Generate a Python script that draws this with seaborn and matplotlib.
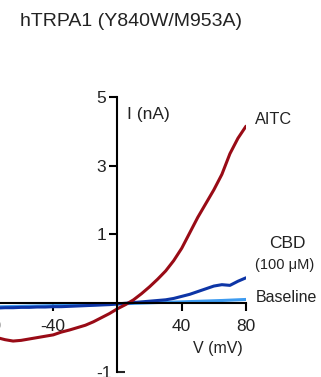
import numpy as np
import pandas as pd
import seaborn as sns
import matplotlib.pyplot as plt
from matplotlib.ticker import FixedLocator, FixedFormatter

# I-V traces (mV, nA)
voltage = [-80, -75, -70, -65, -60, -55, -50, -45, -40, -35, -30, -25, -20, -15, -10, -5,
           0, 5, 10, 15, 20, 25, 30, 35, 40, 45, 50, 55, 60, 65, 70, 75, 80]
aitc = [-0.47, -0.50, -0.53, -0.55, -0.54, -0.52, -0.50, -0.48, -0.46, -0.42, -0.39, -0.355,
        -0.32, -0.27, -0.21, -0.15, -0.08, -0.02, 0.05, 0.14, 0.24, 0.35, 0.47, 0.62, 0.80,
        1.05, 1.5, 1.9, 2.3, 2.75, 3.35, 3.8, 4.15]
cbd = [-0.07, -0.07, -0.065, -0.065, -0.06, -0.06, -0.055, -0.055, -0.05, -0.05, -0.045,
       -0.04, -0.035, -0.03, -0.025, -0.02, -0.01, 0.0, 0.01, 0.02, 0.03, 0.04, 0.05, 0.07,
       0.10, 0.13, 0.17, 0.21, 0.25, 0.27, 0.26, 0.32, 0.37]
baseline = [-0.055, -0.052, -0.05, -0.047, -0.045, -0.042, -0.04, -0.037, -0.035, -0.032,
            -0.03, -0.027, -0.025, -0.022, -0.018, -0.014, -0.01, -0.006, -0.002, 0.002,
            0.006, 0.01, 0.013, 0.017, 0.02, 0.024, 0.028, 0.032, 0.036, 0.04, 0.045, 0.05,
            0.055]

traces = ['Baseline', 'CBD', 'AITC']
colors = {'Baseline': '#3d9bf0', 'CBD': '#0d35a6', 'AITC': '#990b16'}
x_ticks = [-80, -40, 40, 80]
x_labels = ['-80', '-40', '40', '80']
y_ticks = [1, 3, 5]

df = pd.concat([
    pd.DataFrame({'V': voltage, 'I': baseline, 'trace': 'Baseline'}),
    pd.DataFrame({'V': voltage, 'I': cbd, 'trace': 'CBD'}),
    pd.DataFrame({'V': voltage, 'I': aitc, 'trace': 'AITC'}),
])

sns.set_style('ticks')
plt.rcParams['font.family'] = ['Liberation Sans', 'DejaVu Sans']

fig = plt.figure(figsize=(3.21, 3.77), dpi=100)
ax = fig.add_axes([-0.0343, 0.0133, 0.8006, 0.7294])

# segmented y axis: above 1 nA the scale is compressed by half
def fwd(y):
    y = np.asarray(y, dtype=float)
    return np.where(y <= 1, y, 1 + (y - 1) / 2)

def inv(t):
    t = np.asarray(t, dtype=float)
    return np.where(t <= 1, t, 1 + 2 * (t - 1))

ax.set_yscale('function', functions=(fwd, inv))

sns.lineplot(data=df, x='V', y='I', hue='trace', hue_order=traces, palette=colors,
             estimator=None, sort=False, linewidth=2.2, legend=False, ax=ax)

ax.set_xlim(-80, 80)
ax.set_ylim(-1, 5)
ax.set(xlabel='', ylabel='')

for s in ['top', 'right']:
    ax.spines[s].set_visible(False)
ax.spines['left'].set_position(('data', 0))
ax.spines['bottom'].set_position(('data', 0))
for s in ['left', 'bottom']:
    ax.spines[s].set_linewidth(1.5)
    ax.spines[s].set_color('black')

ax.set_xticks(x_ticks)
ax.set_xticklabels(x_labels)
ax.set_yticks(y_ticks)
ax.set_yticklabels([str(t) for t in y_ticks])
ax.yaxis.set_minor_locator(FixedLocator([-1]))
ax.yaxis.set_minor_formatter(FixedFormatter(['-1']))
ax.xaxis.set_minor_locator(FixedLocator([]))

ax.tick_params(axis='both', which='major', direction='out', length=6, width=1.5,
               labelsize=12.5, colors='black', labelcolor='#222222')
ax.tick_params(axis='x', which='major', pad=5)
ax.tick_params(axis='y', which='major', pad=2)
ax.tick_params(axis='y', which='minor', direction='in', length=6, width=1.5,
               labelsize=12.5, pad=4, labelcolor='#222222')

ax.text(6.2, 4.5, 'I (nA)', ha='left', va='center', fontsize=12.5, color='#222222')
ax.text(62.7, -0.66, 'V (mV)', ha='center', va='center', fontsize=11.5, color='#222222')
ax.text(85.7, 4.35, 'AITC', ha='left', va='center', fontsize=11.7, color='#222222')
ax.text(105.6, 0.876, 'CBD', ha='center', va='center', fontsize=12.5, color='#222222')
ax.text(104.3, 0.555, '(100 \u03bcM)', ha='center', va='center', fontsize=10.5, color='#222222')
ax.text(86.3, 0.09, 'Baseline', ha='left', va='center', fontsize=11.5, color='#222222')

fig.text(20 / 321, 1 - 22 / 377, 'hTRPA1 (Y840W/M953A)', ha='left', va='center',
         fontsize=14, color='#222222')

fig.savefig('out.png', dpi=100)
